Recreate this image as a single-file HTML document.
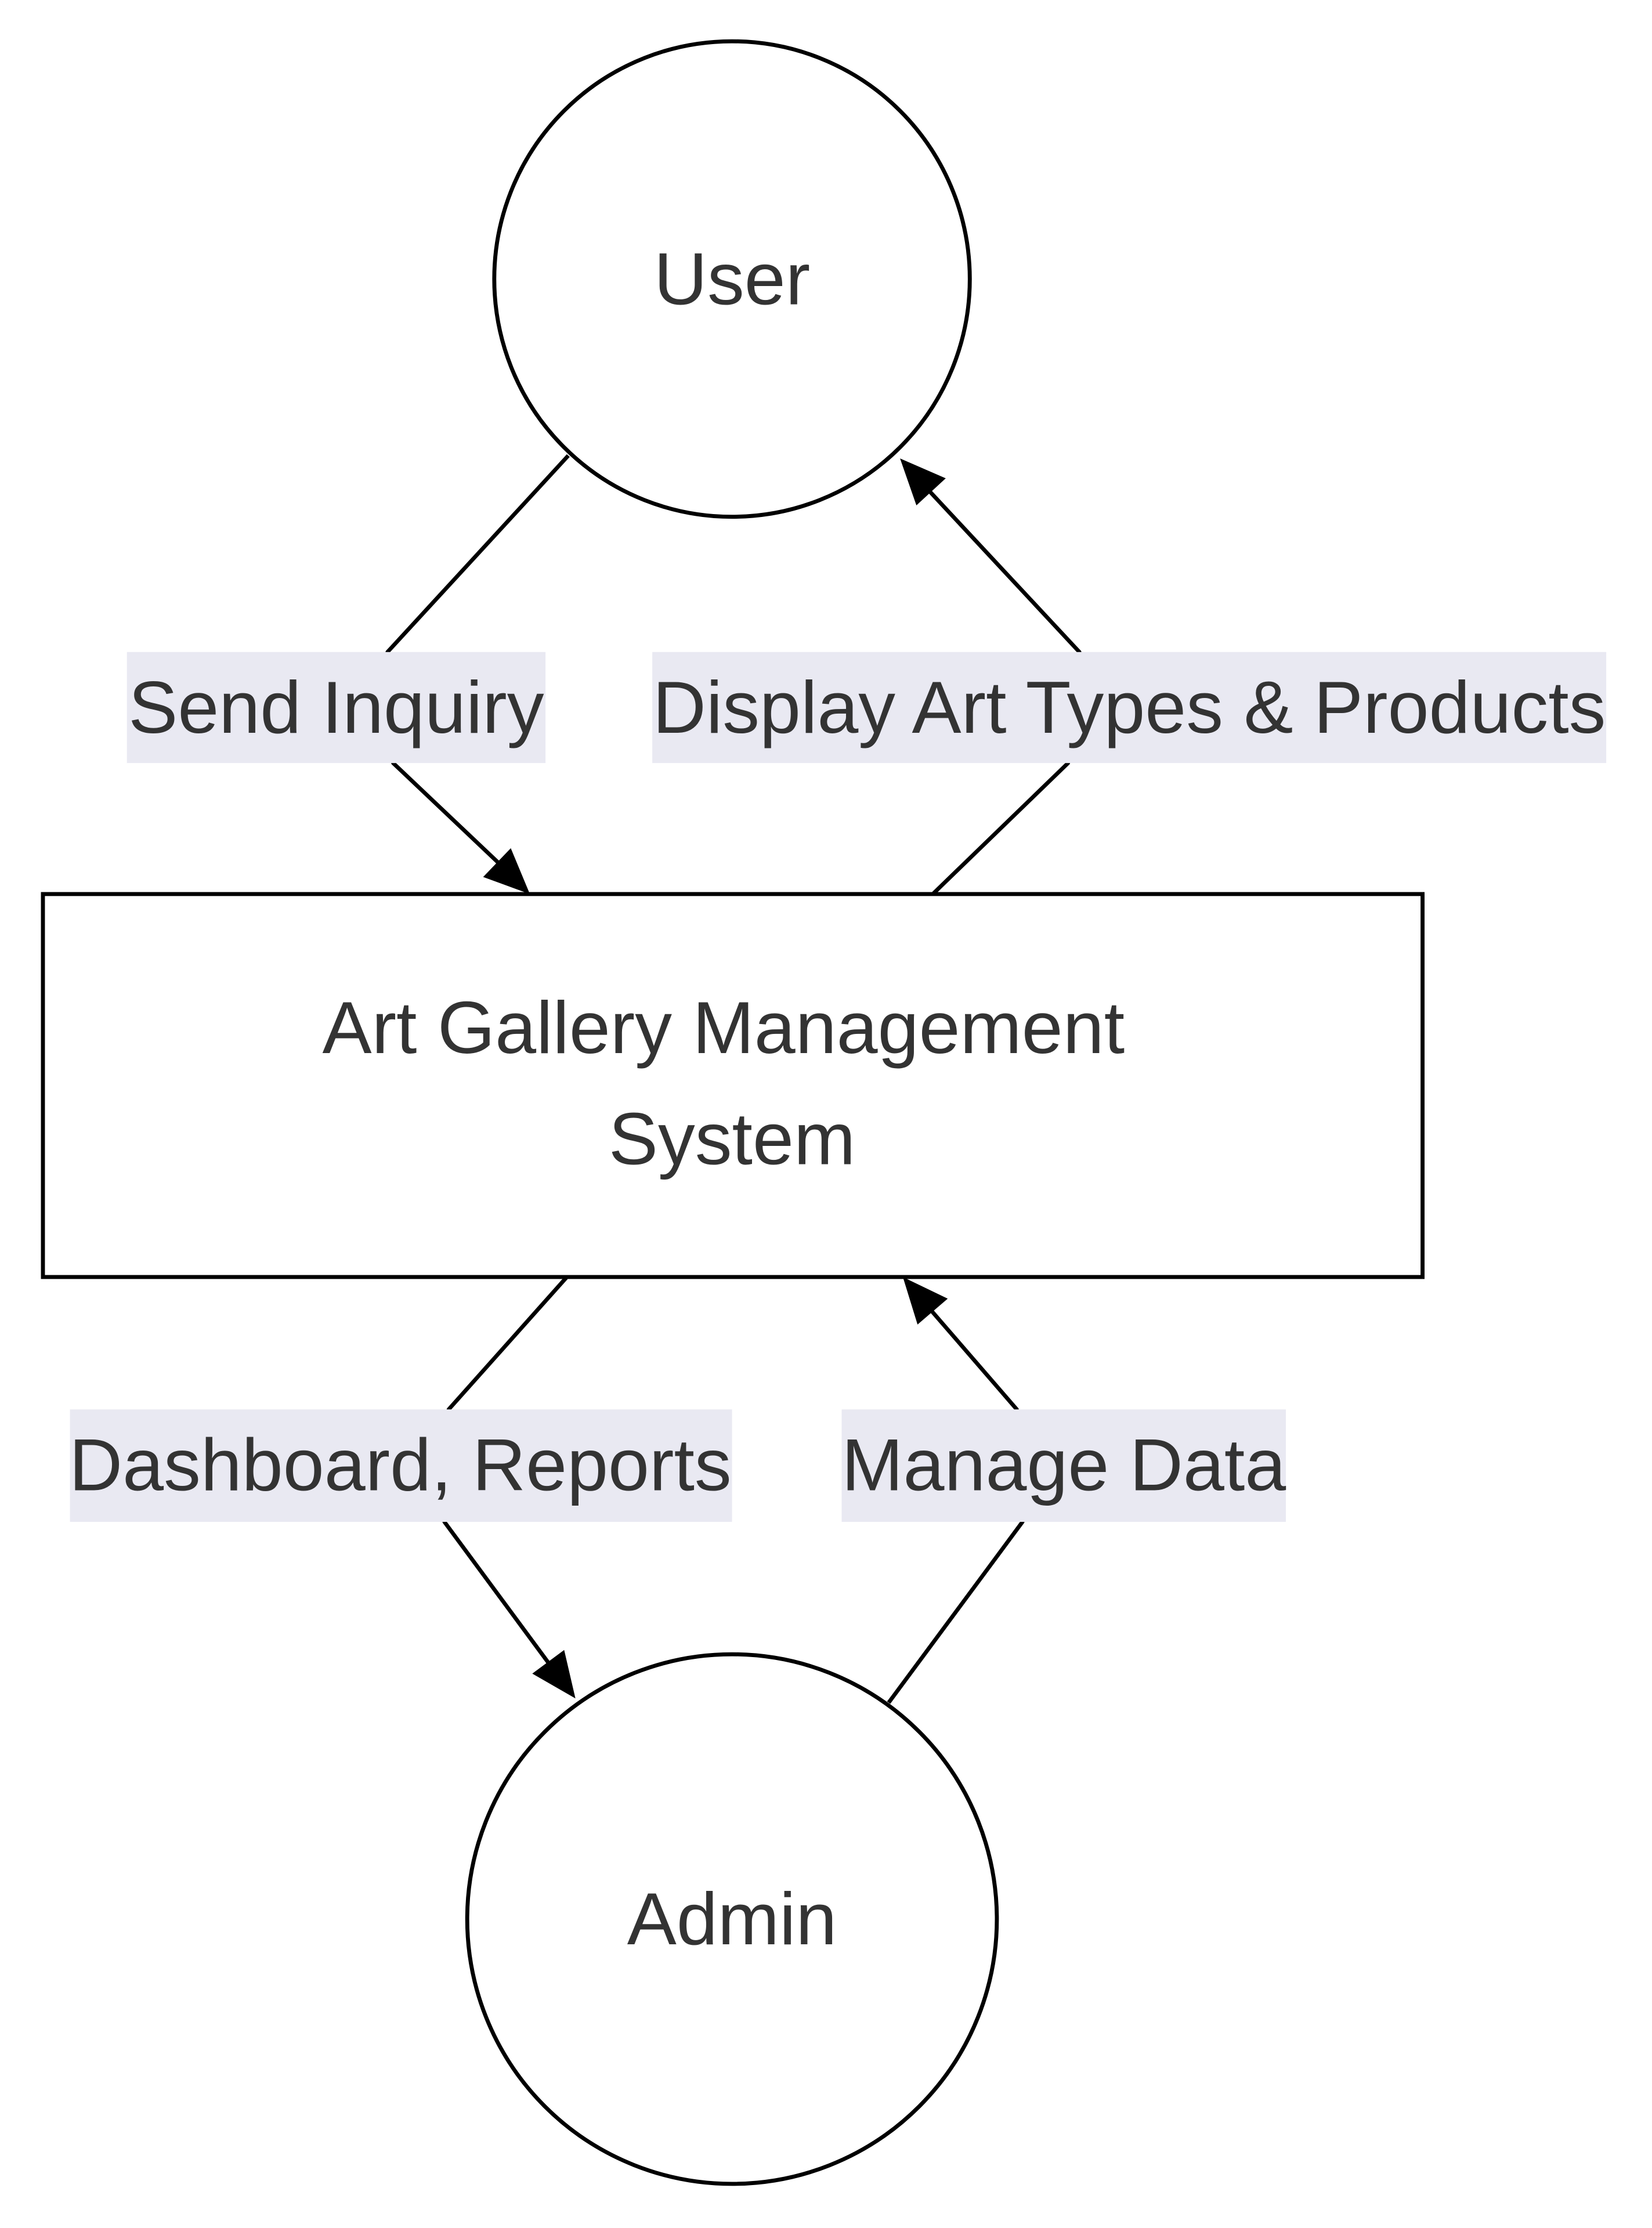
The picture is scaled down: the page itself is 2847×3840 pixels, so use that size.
<!DOCTYPE html>
<html><head><meta charset="utf-8"><style>html,body{margin:0;padding:0;background:#fff}svg{display:block}</style></head>
<body>
<svg width="2847" height="3840" viewBox="0 0 1160 1565" xmlns="http://www.w3.org/2000/svg" font-family="Liberation Sans, Arial, sans-serif">
<rect width="1160" height="1565" fill="#fff"/>
<g stroke="#000" stroke-width="2.8" fill="none" stroke-linejoin="round">
<path d="M399,320 L272,458 L276,536 L352,608"/>
<path d="M655,628 L750,536 L758,458 L648,340"/>
<path d="M398,897 L315,990 L312,1069 L388,1172"/>
<path d="M624,1196 L718,1069 L714,990 L650,916"/>
</g>
<g fill="#000">
<polygon points="372,628 339.2,616 358.6,595.8"/>
<polygon points="632,322 664.1,336 643.5,355"/>
<polygon points="404,1193 373.7,1175.6 396.1,1159"/>
<polygon points="634,897 665.5,912.2 644.3,930.4"/>
</g>
<circle cx="514" cy="196" r="167" fill="#fff" stroke="#000" stroke-width="2.8"/>
<rect x="30" y="628" width="969" height="269" fill="#fff" stroke="#000" stroke-width="2.8"/>
<circle cx="514" cy="1348" r="186" fill="#fff" stroke="#000" stroke-width="2.8"/>
<g fill="#e9e9f2">
<rect x="89" y="458" width="294" height="78"/>
<rect x="458" y="458" width="670" height="78"/>
<rect x="49" y="990" width="465" height="79"/>
<rect x="591" y="990" width="312" height="79"/>
</g>
<g fill="#333" font-size="52" text-anchor="middle" dominant-baseline="central">
<text x="514" y="196">User</text>
<text x="508" y="722">Art Gallery Management</text>
<text x="514" y="800">System</text>
<text x="514" y="1348">Admin</text>
<text x="236" y="497">Send Inquiry</text>
<text x="793" y="497">Display Art Types &amp; Products</text>
<text x="281" y="1029">Dashboard, Reports</text>
<text x="747" y="1029">Manage Data</text>
</g>
</svg>
</body></html>
